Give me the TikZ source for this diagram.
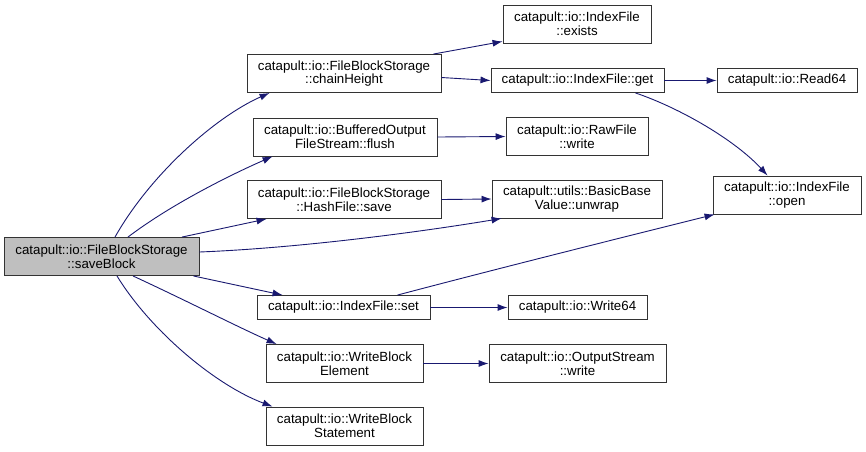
\documentclass[tikz,border=0pt]{standalone}
\usepackage{fontspec}
\setmainfont{Liberation Sans}
\usetikzlibrary{arrows.meta}
\definecolor{edgeblue}{RGB}{25,25,112}
\definecolor{rootfill}{RGB}{191,191,191}
\begin{document}
\begin{tikzpicture}[x=1pt,y=-1pt,
  box/.style={draw=black!80, line width=0.9pt, inner sep=0pt, align=center, fill=white,
    font=\fontsize{13.3}{13.6}\selectfont},
  edge/.style={draw=edgeblue, line width=0.9pt, -{Latex[length=10pt,width=7pt]}},
]
\useasboundingbox (0,0) rectangle (866,451);
% column 1
\node[box, fill=rootfill, minimum width=195pt, minimum height=38pt] (save) at (101.5,256.5) {catapult::io::FileBlockStorage\\::saveBlock};
% column 2
\node[box, minimum width=194pt, minimum height=38pt] (chain) at (344,73.5) {catapult::io::FileBlockStorage\\::chainHeight};
\node[box, minimum width=184pt, minimum height=38pt] (flush) at (345,137) {catapult::io::BufferedOutput\\FileStream::flush};
\node[box, minimum width=194pt, minimum height=38pt] (hash) at (344,199.5) {catapult::io::FileBlockStorage\\::HashFile::save};
\node[box, minimum width=173pt, minimum height=24pt] (set) at (343.5,307.5) {catapult::io::IndexFile::set};
\node[box, minimum width=157pt, minimum height=38pt] (elem) at (344.5,363.5) {catapult::io::WriteBlock\\Element};
\node[box, minimum width=157pt, minimum height=38pt] (stmt) at (344.5,426) {catapult::io::WriteBlock\\Statement};
% column 3
\node[box, minimum width=148pt, minimum height=38pt] (exists) at (577,24) {catapult::io::IndexFile\\::exists};
\node[box, minimum width=173pt, minimum height=24pt] (get) at (577.5,80.5) {catapult::io::IndexFile::get};
\node[box, minimum width=142pt, minimum height=38pt] (raw) at (577,136.5) {catapult::io::RawFile\\::write};
\node[box, minimum width=170pt, minimum height=38pt] (unwrap) at (577,199) {catapult::utils::BasicBase\\Value::unwrap};
\node[box, minimum width=139pt, minimum height=24pt] (w64) at (577.5,307.5) {catapult::io::Write64};
\node[box, minimum width=177pt, minimum height=38pt] (ostream) at (577.5,363.5) {catapult::io::OutputStream\\::write};
% column 4
\node[box, minimum width=140pt, minimum height=24pt] (r64) at (787,80.5) {catapult::io::Read64};
\node[box, minimum width=148pt, minimum height=38pt] (open) at (787,195) {catapult::io::IndexFile\\::open};
% edges from saveBlock
\draw[edge] ([xshift=13.5pt]save.north) .. controls (150,175) and (215,117) .. ([xshift=23pt]chain.south west);
\draw[edge] ([xshift=26.5pt]save.north) .. controls (170,205) and (230,175) .. ([xshift=20pt]flush.south west);
\draw[edge] ([xshift=80.5pt]save.north) -- ([xshift=20pt]hash.south west);
\draw[edge] ([yshift=4.5pt]save.east) .. controls (300,248) and (420,232) .. ([xshift=10pt]unwrap.south west);
\draw[edge] ([xshift=-6pt]save.south east) -- ([xshift=26pt]set.north west);
\draw[edge] ([xshift=31.5pt]save.south) .. controls (185,300) and (240,328) .. ([xshift=11pt]elem.north west);
\draw[edge] ([xshift=15.5pt]save.south) .. controls (150,330) and (215,385) .. ([xshift=7pt]stmt.north west);
% other edges
\draw[edge] ([xshift=-8pt]chain.north east) -- ([yshift=2pt]exists.south west);
\draw[edge] ([yshift=-4pt]chain.east) -- (get.west);
\draw[edge] (get.east) -- (r64.west);
\draw[edge] ([xshift=-29pt]get.south east) .. controls (680,108) and (735,140) .. ([xshift=55pt]open.north west);
\draw[edge] (flush.east) -- (raw.west);
\draw[edge] (hash.east) -- (unwrap.west);
\draw[edge] ([xshift=-33pt]set.north east) .. controls (500,268) and (620,238) .. ([xshift=2pt]open.south west);
\draw[edge] (set.east) -- (w64.west);
\draw[edge] (elem.east) -- (ostream.west);
\end{tikzpicture}
\end{document}
